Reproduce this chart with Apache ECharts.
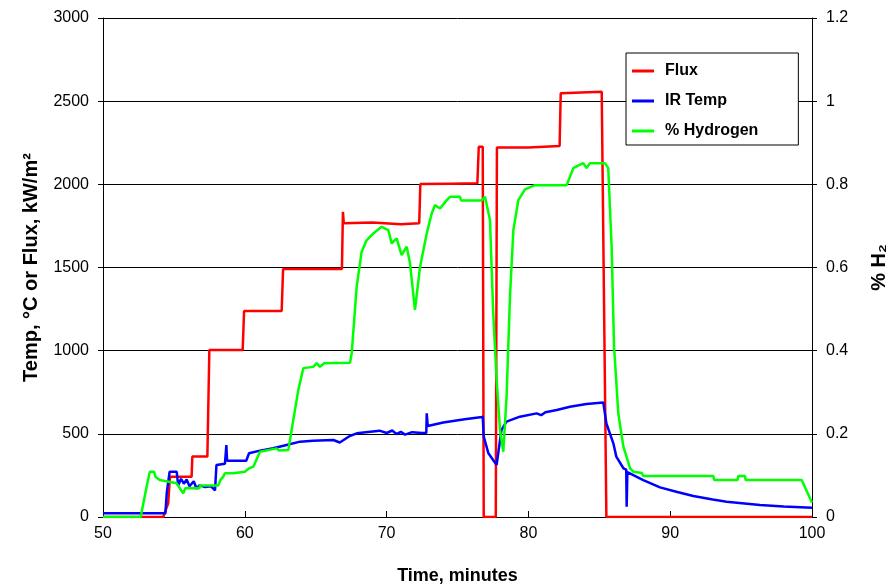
<!DOCTYPE html>
<html>
<head>
<meta charset="utf-8">
<script src="https://cdn.jsdelivr.net/npm/echarts@6/dist/echarts.min.js"></script>
<style>
  html, body { margin: 0; padding: 0; background: #fff; }
  #chart { width: 896px; height: 586px; }
</style>
</head>
<body>
<div id="chart"></div>
<script>
// flux, kW/m2 (left axis)
var fluxTime = [50, 54.25, 54.6, 54.72, 56.25, 56.3, 57.36, 57.5, 59.85, 59.95, 62.6, 62.7, 66.85, 66.92, 66.98, 69, 71, 72.3, 72.38, 74.5, 76.4, 76.5, 76.78, 76.85, 77.7, 77.78, 80, 82.2, 82.28, 85.17, 85.5, 100];
var fluxValue = [0, 0, 84, 242, 242, 363, 363, 1004, 1004, 1238, 1238, 1491, 1491, 1835, 1766, 1770, 1760, 1766, 2002, 2004, 2006, 2226, 2226, 0, 0, 2222, 2222, 2230, 2547, 2557, 0, 0];

// IR temp, deg C (left axis)
var irTime = [50, 54.4, 54.5, 54.7, 55.2, 55.3, 55.5, 55.7, 55.9, 56.1, 56.4, 56.6, 56.8, 57.2, 57.6, 57.9, 58.0, 58.6, 58.7, 58.75, 60.1, 60.3, 61.07, 62.0, 62.95, 63.9, 64.8, 66.24, 66.7, 67.4, 67.9, 69.5, 70.0, 70.4, 70.7, 71.0, 71.3, 71.8, 72.5, 72.8, 72.83, 72.9, 74, 75.5, 76.6, 76.78, 76.85, 77.18, 77.76, 78.1, 78.46, 79.4, 80.58, 80.9, 81.2, 82.0, 82.93, 84.1, 85.28, 85.5, 85.99, 86.2, 86.7, 86.9, 86.93, 86.98, 88.1, 89.28, 90.5, 91.63, 93, 93.98, 96.33, 98, 100];
var irValue = [22, 22, 150, 272, 272, 190, 230, 200, 225, 185, 215, 170, 190, 180, 185, 160, 312, 320, 433, 338, 338, 383, 399, 413, 433, 453, 458, 463, 448, 487, 503, 519, 505, 520, 498, 512, 495, 510, 505, 505, 623, 547, 568, 588, 599, 603, 483, 383, 313, 523, 573, 603, 623, 612, 630, 643, 663, 679, 689, 563, 443, 363, 293, 285, 62, 270, 222, 178, 150, 126, 105, 92, 72, 63, 55];

// hydrogen fraction (right axis)
var h2Time = [50, 52.66, 53.0, 53.3, 53.6, 53.7, 54.0, 55.2, 55.5, 55.66, 55.8, 56.8, 56.85, 58.13, 58.3, 58.48, 58.6, 59.2, 59.3, 60.0, 60.3, 60.6, 61.07, 62.25, 62.4, 63.07, 63.3, 63.77, 64.13, 64.83, 65.07, 65.3, 65.6, 67.42, 67.54, 67.89, 68.24, 68.6, 69.06, 69.65, 70.12, 70.36, 70.71, 71.06, 71.42, 71.65, 72.0, 72.36, 72.83, 73.18, 73.41, 73.77, 74.24, 74.47, 75.18, 75.25, 76.7, 76.94, 77.06, 77.29, 77.52, 77.76, 78.0, 78.23, 78.46, 78.7, 78.94, 79.29, 79.76, 80.46, 82.7, 83.17, 83.5, 83.87, 84.1, 84.34, 85.4, 85.63, 85.87, 86.04, 86.34, 86.7, 87.17, 87.4, 88.0, 88.1, 93.04, 93.1, 94.75, 94.8, 95.27, 95.32, 99.27, 99.86, 100];
var h2Value = [0, 0, 0.06, 0.109, 0.109, 0.097, 0.089, 0.081, 0.065, 0.057, 0.069, 0.069, 0.076, 0.076, 0.09, 0.097, 0.105, 0.105, 0.109, 0.109, 0.117, 0.121, 0.157, 0.165, 0.16, 0.161, 0.209, 0.305, 0.358, 0.361, 0.37, 0.361, 0.37, 0.371, 0.394, 0.554, 0.638, 0.666, 0.682, 0.698, 0.69, 0.658, 0.67, 0.63, 0.65, 0.61, 0.498, 0.602, 0.682, 0.73, 0.75, 0.742, 0.762, 0.77, 0.77, 0.761, 0.761, 0.77, 0.77, 0.714, 0.49, 0.33, 0.209, 0.157, 0.289, 0.53, 0.69, 0.762, 0.788, 0.798, 0.798, 0.839, 0.845, 0.851, 0.839, 0.851, 0.851, 0.839, 0.65, 0.41, 0.249, 0.169, 0.117, 0.109, 0.106, 0.0986, 0.0986, 0.089, 0.089, 0.0986, 0.0986, 0.089, 0.089, 0.045, 0.035];

function pairs(xs, ys) {
  var out = [];
  for (var i = 0; i < xs.length; i++) out.push([xs[i], ys[i]]);
  return out;
}

var font = 'Liberation Sans, Arial, sans-serif';
var chart = echarts.init(document.getElementById('chart'));

var option = {
  animation: false,
  textStyle: { fontFamily: font },
  grid: { left: 103, right: 84, top: 18, bottom: 69, containLabel: false, outerBoundsMode: 'none' },
  legend: {
    orient: 'vertical',
    left: 626,
    top: 53,
    width: 171,
    padding: [10, 40, 6, 6],
    backgroundColor: '#fff',
    borderColor: '#000',
    borderWidth: 1,
    borderRadius: 0,
    itemWidth: 22,
    itemHeight: 3,
    itemGap: 14,
    icon: 'rect',
    textStyle: { fontSize: 16, fontWeight: 'bold', color: '#000', fontFamily: font, padding: [0, 0, 0, 6] },
    data: ['Flux', 'IR Temp', '% Hydrogen']
  },
  xAxis: {
    type: 'value',
    min: 50,
    max: 100,
    interval: 10,
    name: 'Time, minutes',
    nameLocation: 'middle',
    nameGap: 50,
    nameTextStyle: { fontSize: 18, fontWeight: 'bold', color: '#000', fontFamily: font },
    axisLine: { lineStyle: { color: '#000', width: 1 } },
    axisTick: { inside: true, length: 6, lineStyle: { color: '#000' } },
    axisLabel: { fontSize: 16, color: '#000', margin: 9, fontFamily: font },
    splitLine: { show: false }
  },
  yAxis: [{
    type: 'value',
    min: 0,
    max: 3000,
    interval: 500,
    name: 'Temp, °C or Flux, kW/m²',
    nameLocation: 'middle',
    nameGap: 62,
    nameTextStyle: { fontSize: 20, fontWeight: 'bold', color: '#000', fontFamily: font },
    axisLine: { show: true, lineStyle: { color: '#000', width: 1 } },
    axisTick: { show: true, length: 5, lineStyle: { color: '#000' } },
    axisLabel: { fontSize: 16, color: '#000', margin: 14, fontFamily: font, formatter: function (v) { return String(v); } },
    splitLine: { show: true, lineStyle: { color: '#000', width: 1 } }
  }, {
    type: 'value',
    min: 0,
    max: 1.2,
    interval: 0.2,
    position: 'right',
    name: '% H₂',
    nameLocation: 'middle',
    nameGap: 57,
    nameRotate: 90,
    nameTextStyle: { fontSize: 20, fontWeight: 'bold', color: '#000', fontFamily: font },
    axisLine: { show: true, lineStyle: { color: '#000', width: 1 } },
    axisTick: { show: true, length: 5, lineStyle: { color: '#000' } },
    axisLabel: { fontSize: 16, color: '#000', margin: 14, fontFamily: font, formatter: function (v) { return String(+v.toFixed(1)); } },
    splitLine: { show: false }
  }],
  series: [{
    name: 'Flux',
    type: 'line',
    yAxisIndex: 0,
    showSymbol: false,
    color: '#ff0000',
    lineStyle: { width: 2.5, color: '#ff0000' },
    data: pairs(fluxTime, fluxValue)
  }, {
    name: 'IR Temp',
    type: 'line',
    yAxisIndex: 0,
    showSymbol: false,
    color: '#0000ff',
    lineStyle: { width: 2.5, color: '#0000ff' },
    data: pairs(irTime, irValue)
  }, {
    name: '% Hydrogen',
    type: 'line',
    yAxisIndex: 1,
    showSymbol: false,
    color: '#00ff00',
    lineStyle: { width: 2.5, color: '#00ff00' },
    data: pairs(h2Time, h2Value)
  }]
};
chart.setOption(option);
</script>
</body>
</html>
